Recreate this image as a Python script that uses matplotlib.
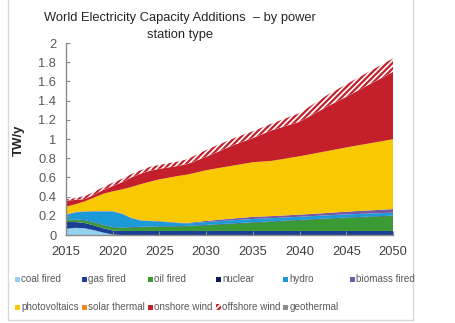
import matplotlib
matplotlib.use("Agg")
import matplotlib.pyplot as plt
from matplotlib.patches import Rectangle
from matplotlib.lines import Line2D

plt.rcParams['font.family'] = ['Liberation Sans', 'DejaVu Sans']
plt.rcParams['hatch.linewidth'] = 1.6

years = [2015, 2016, 2017, 2018, 2019, 2020, 2021, 2022, 2023, 2024, 2025,
         2027, 2028, 2030, 2033, 2035, 2037, 2040, 2043, 2045, 2050]

coal = [0.065, 0.075, 0.07, 0.05, 0.025, 0.005, 0, 0, 0, 0, 0,
        0, 0, 0, 0, 0, 0, 0, 0, 0, 0]
gas = [0.07, 0.06, 0.055, 0.05, 0.045, 0.042, 0.042, 0.042, 0.042, 0.042, 0.042,
       0.042, 0.042, 0.042, 0.042, 0.042, 0.042, 0.042, 0.042, 0.042, 0.042]
oil = [0.02, 0.02, 0.025, 0.028, 0.03, 0.03, 0.03, 0.035, 0.038, 0.04, 0.043,
       0.045, 0.048, 0.058, 0.075, 0.085, 0.095, 0.11, 0.125, 0.135, 0.155]
nuclear = [0.005, 0.005, 0.005, 0.005, 0.005, 0.005, 0.005, 0.005, 0.005, 0.005, 0.005,
           0.005, 0.005, 0.005, 0.005, 0.005, 0.005, 0.005, 0.005, 0.005, 0.005]
hydro = [0.05, 0.075, 0.088, 0.112, 0.14, 0.163, 0.143, 0.093, 0.065, 0.058, 0.05,
         0.033, 0.025, 0.03, 0.033, 0.035, 0.033, 0.033, 0.033, 0.033, 0.03]
biomass = [0.004, 0.004, 0.004, 0.004, 0.004, 0.004, 0.004, 0.004, 0.004, 0.004, 0.005,
           0.005, 0.006, 0.012, 0.018, 0.022, 0.022, 0.022, 0.025, 0.028, 0.038]
photovoltaics = [0.081, 0.081, 0.103, 0.141, 0.181, 0.206, 0.251, 0.321, 0.376, 0.406, 0.435,
                 0.485, 0.504, 0.528, 0.552, 0.569, 0.575, 0.608, 0.645, 0.669, 0.728]
solar_thermal = [0, 0, 0, 0, 0, 0, 0, 0, 0, 0, 0,
                 0, 0, 0, 0, 0, 0, 0, 0, 0, 0]
onshore_wind = [0.065, 0.045, 0.025, 0.03, 0.04, 0.055, 0.075, 0.10, 0.11, 0.115, 0.11,
                0.105, 0.11, 0.14, 0.215, 0.252, 0.318, 0.36, 0.465, 0.528, 0.702]
offshore_wind = [0.01, 0.02, 0.03, 0.03, 0.03, 0.035, 0.035, 0.035, 0.035, 0.04, 0.04,
                 0.045, 0.05, 0.07, 0.07, 0.07, 0.07, 0.09, 0.12, 0.13, 0.14]
geothermal = [0, 0, 0, 0, 0, 0, 0, 0, 0, 0, 0,
              0, 0, 0, 0, 0, 0, 0, 0, 0, 0]

labels = ['coal fired', 'gas fired', 'oil fired', 'nuclear', 'hydro', 'biomass fired',
          'photovoltaics', 'solar thermal', 'onshore wind', 'offshore wind', 'geothermal']
colors = ['#93D1F0', '#1B3F95', '#3A9A33', '#0B1D4E', '#1A9AD6', '#7658A6',
          '#F8C800', '#EE8A1D', '#C3202C', '#C3202C', '#8C8C8C']
series = [coal, gas, oil, nuclear, hydro, biomass, photovoltaics, solar_thermal,
          onshore_wind, offshore_wind, geothermal]

x_ticks = [2015, 2020, 2025, 2030, 2035, 2040, 2045, 2050]
y_ticks = [0, 0.2, 0.4, 0.6, 0.8, 1, 1.2, 1.4, 1.6, 1.8, 2]
y_tick_labels = ['0', '0.2', '0.4', '0.6', '0.8', '1', '1.2', '1.4', '1.6', '1.8', '2']

W, H = 456, 323
fig = plt.figure(figsize=(W / 100, H / 100), dpi=100)

def fx(px):
    return px / W

def fy(py):
    return 1 - py / H

ax = fig.add_axes([fx(66), fy(235), fx(393) - fx(66), fy(43) - fy(235)])
polys = ax.stackplot(years, *series, colors=colors, linewidth=0)
off = polys[9]
off.set_facecolor('white')
off.set_edgecolor('#C3202C')
off.set_hatch('//////')
off.set_linewidth(0)

ax.set_xlim(2015, 2050)
ax.set_ylim(0, 2)
ax.set_xticks(x_ticks)
ax.set_yticks(y_ticks)
ax.set_yticklabels(y_tick_labels)
for s in ['top', 'right']:
    ax.spines[s].set_visible(False)
for s in ['left', 'bottom']:
    ax.spines[s].set_color('#8A8A8A')
    ax.spines[s].set_linewidth(1.0)
ax.tick_params(axis='y', direction='in', length=3, color='#8A8A8A', labelsize=9.3,
               labelcolor='#595959', pad=7)
ax.tick_params(axis='x', direction='in', length=3, color='#8A8A8A', labelsize=9.3,
               labelcolor='#404040', pad=8)
ax.set_ylabel('TW/y', fontsize=9.5, fontweight='bold', color='#262626')
ax.yaxis.set_label_coords((25 - 66) / 327, (235 - 140) / 192)
ax.set_facecolor('none')

fig.text(fx(180), fy(18), 'World Electricity Capacity Additions  \u2013 by power',
         ha='center', va='center', fontsize=9.3, color='#262626')
fig.text(fx(180), fy(35), 'station type',
         ha='center', va='center', fontsize=9.3, color='#262626')

# legend
col_x = [15, 82, 148, 216, 283, 350]
row_y = [279, 307]
for i, (lab, col) in enumerate(zip(labels, colors)):
    r, c = divmod(i, 6)
    x0 = col_x[c]
    y0 = row_y[r]
    if lab == 'offshore wind':
        rect = Rectangle((fx(x0), fy(y0 + 3)), fx(5), 6 / H, transform=fig.transFigure,
                         facecolor='white', edgecolor=col, hatch='//////', linewidth=0)
    else:
        rect = Rectangle((fx(x0), fy(y0 + 2.5)), fx(5), 5 / H, transform=fig.transFigure,
                         facecolor=col, linewidth=0)
    fig.add_artist(rect)
    fig.text(fx(x0 + 6.5), fy(y0), lab, ha='left', va='center', fontsize=7.1, color='#595959')

# frame
fc = '#D9D9D9'
fig.add_artist(Line2D([fx(8), fx(8)], [fy(320), 1], transform=fig.transFigure, color=fc, lw=1))
fig.add_artist(Line2D([fx(413), fx(413)], [fy(320), 1], transform=fig.transFigure, color=fc, lw=1))
fig.add_artist(Line2D([fx(8), fx(413)], [fy(320), fy(320)], transform=fig.transFigure, color=fc, lw=1))

fig.savefig('out.png', dpi=100)
